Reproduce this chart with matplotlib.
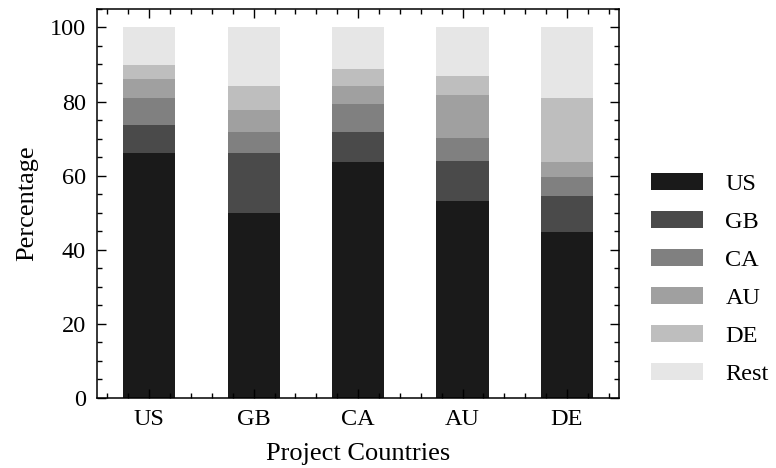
import matplotlib
matplotlib.use("Agg")
import matplotlib.pyplot as plt
import numpy as np
from matplotlib.ticker import AutoMinorLocator, MultipleLocator

plt.rcParams["font.family"] = ["Liberation Serif", "DejaVu Serif"]
plt.rcParams["font.size"] = 18

# Project countries (x categories) and the share of each contributor country
projects = ["US", "GB", "CA", "AU", "DE"]
segments = ["US", "GB", "CA", "AU", "DE", "Rest"]
share_us = [66.0, 50.0, 63.6, 53.1, 44.8]
share_gb = [7.7, 16.2, 8.2, 10.8, 9.8]
share_ca = [7.3, 5.7, 7.4, 6.2, 5.1]
share_au = [5.0, 5.8, 4.9, 11.6, 4.1]
share_de = [3.8, 6.4, 4.6, 5.2, 17.2]
share_rest = [10.2, 15.9, 11.3, 13.1, 19.0]
colors = ["#1a1a1a", "#4a4a4a", "#808080", "#a0a0a0", "#bebebe", "#e6e6e6"]

fig = plt.figure(figsize=(7.76, 4.68), dpi=100)
ax = fig.add_axes([0.125, 0.1496, 0.673, 0.8314])

x = np.arange(len(projects))
bottom = np.zeros(len(projects))
for name, vals, c in zip(segments,
                         [share_us, share_gb, share_ca, share_au, share_de, share_rest],
                         colors):
    ax.bar(x, vals, width=0.5, bottom=bottom, color=c, label=name)
    bottom += np.array(vals)

ax.set_xlim(-0.5, 4.5)
ax.set_ylim(0, 105)
ax.set_xticks(x)
ax.set_xticklabels(projects)
ax.yaxis.set_major_locator(MultipleLocator(20))
ax.xaxis.set_minor_locator(AutoMinorLocator(5))
ax.yaxis.set_minor_locator(AutoMinorLocator(4))
ax.tick_params(which="both", direction="in", top=True, right=True, width=1.0)
ax.tick_params(which="major", length=6.5, labelsize=17.5, pad=8)
ax.tick_params(which="minor", length=3.5)
for s in ax.spines.values():
    s.set_linewidth(1.1)

ax.set_xlabel("Project Countries", fontsize=19, labelpad=9)
ax.set_ylabel("Percentage", fontsize=19, labelpad=8)

ax.legend(loc="center left", bbox_to_anchor=(0.811, 0.404),
          bbox_transform=fig.transFigure, frameon=False, fontsize=17.5,
          handlelength=2.15, handleheight=0.72, labelspacing=0.65,
          handletextpad=0.9, borderpad=0.4)

fig.savefig("out.png", dpi=100)
